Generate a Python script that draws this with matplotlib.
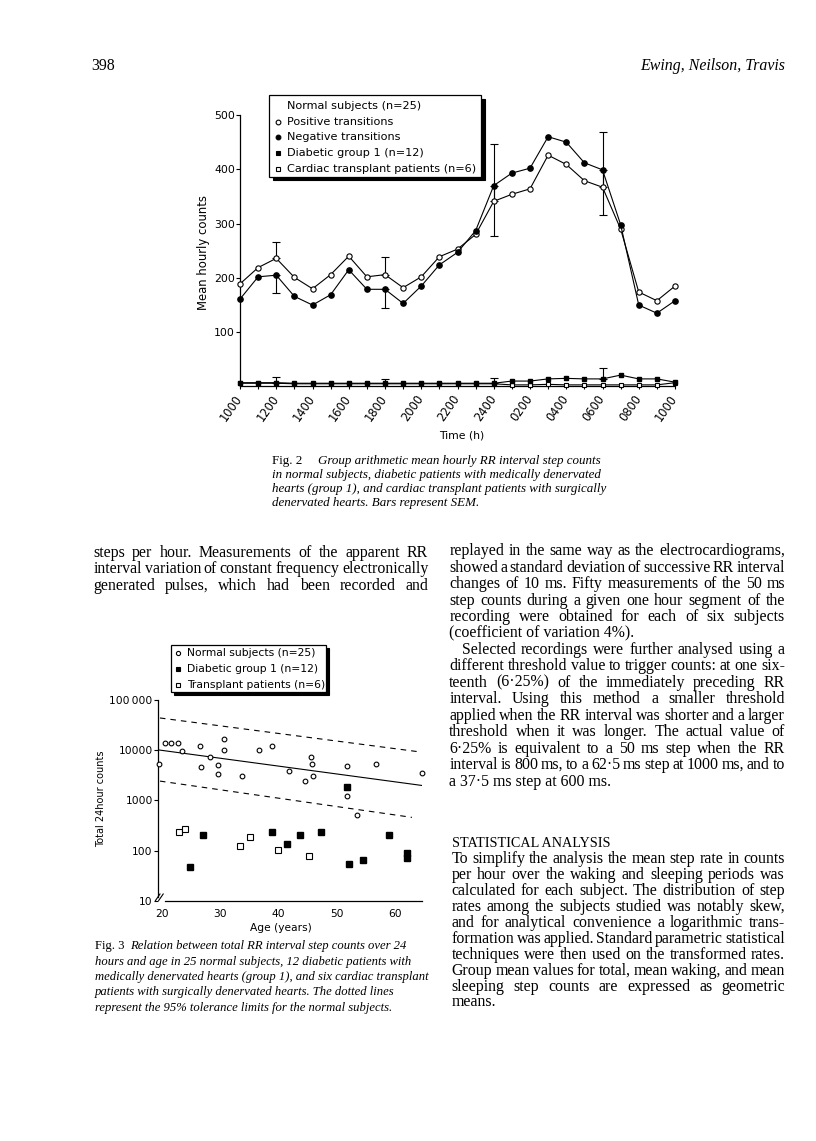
import matplotlib
matplotlib.use("Agg")
import matplotlib.pyplot as plt
from matplotlib.transforms import IdentityTransform
from matplotlib.patches import Rectangle
from matplotlib.lines import Line2D
import numpy as np

# ---------------- data: Fig. 2 ----------------
hours = list(range(25))
time_labels = ['1000', '1200', '1400', '1600', '1800', '2000', '2200', '2400',
               '0200', '0400', '0600', '0800', '1000']
normal_pos = [189, 219, 236, 201, 180, 206, 240, 202, 206, 182, 202, 239, 253,
              280, 341, 354, 364, 426, 409, 379, 367, 290, 174, 158, 185]
normal_neg = [161, 202, 205, 166, 150, 169, 215, 179, 179, 153, 185, 224, 247,
              287, 370, 393, 402, 460, 450, 412, 399, 298, 150, 135, 158]
diabetic = [7, 7, 7, 6, 6, 6, 6, 6, 6, 6, 6, 6, 6, 6, 6,
            10, 10, 14, 15, 14, 14, 21, 14, 14, 8]
transplant = [6, 6, 6, 5, 5, 5, 5, 5, 5, 5, 5, 5, 5, 5, 5,
              3, 3, 4, 3, 3, 3, 3, 3, 3, 7]
sem_hours = [2, 8, 14, 20]
pos_sem = [31, 33, 106, 102]
neg_sem = [32, 35, 93, 83]
diab_sem = [10, 8, 9, 20]

# ---------------- data: Fig. 3 ----------------
normal_age = [19.6, 20.5, 21.6, 22.8, 23.5, 26.6, 26.7, 28.3, 29.7, 29.7, 30.6,
              30.7, 33.8, 36.6, 38.9, 41.8, 44.6, 45.6, 45.8, 45.9, 51.7, 51.7,
              53.5, 56.7, 64.7]
normal_cnt = [5330, 13800, 13800, 13800, 9700, 11800, 4640, 7360, 5090, 3260,
              16300, 9850, 3070, 9850, 11800, 3750, 2440, 7360, 5250, 2970,
              4720, 1200, 509, 5170, 3520]
diab_age = [24.8, 27.0, 38.9, 41.4, 43.7, 47.3, 51.7, 52.1, 54.5, 58.9, 62.0, 62.0]
diab_cnt = [48, 206, 229, 138, 203, 236, 1850, 55, 64, 206, 88, 71]
trans_age = [22.9, 24.0, 33.4, 35.2, 39.9, 45.3]
trans_cnt = [233, 267, 124, 190, 105, 77]
fit_age, fit_cnt = [19.4, 64.7], [10000, 1960]
upper_age, upper_cnt = [19.7, 64.3], [43000, 9100]
lower_age, lower_cnt = [19.7, 62.9], [2400, 457]
log_ticks = [10, 100, 1000, 10000, 100000]
log_labels = ['10', '100', '1000', '10000', '100\u2009000']
age_ticks = [20, 30, 40, 50, 60]

# ---------------- page setup ----------------
W, H = 816, 1141
fig = plt.figure(figsize=(W / 100, H / 100), dpi=100)
fig.patch.set_facecolor('white')
R = fig.canvas.get_renderer()
ID = IdentityTransform()
SERIF = 'Liberation Serif'
SANS = 'DejaVu Sans'
PX = 100 / 72.0


def measure(s, size, **kw):
    t = fig.text(0, 0, s, fontsize=size, **kw)
    w = t.get_window_extent(R).width
    t.remove()
    return w


def fit(s, width, **kw):
    return 10 * width / measure(s, 10, **kw)


def words_fit(s, width, min_gap, **kw):
    ws = s.split()
    total = sum(measure(w, 10, **kw) for w in ws)
    return 10 * (width - min_gap * (len(ws) - 1)) / total


def line_text(x, yc, s, size, family=SERIF, style='normal', ha='left'):
    base = H - (yc + 0.30 * size * PX)
    return fig.text(x, base, s, fontsize=size, family=family, style=style,
                    ha=ha, va='baseline', transform=ID)


def justify(s, x0, x1, yc, size, family=SERIF, style='normal'):
    words = s.split()
    base = H - (yc + 0.30 * size * PX)
    ts = [fig.text(0, base, w, fontsize=size, family=family, style=style,
                   va='baseline', transform=ID) for w in words]
    ws = [t.get_window_extent(R).width for t in ts]
    gap = (x1 - x0 - sum(ws)) / max(len(words) - 1, 1)
    x = x0
    for t, w in zip(ts, ws):
        t.set_position((x, base))
        x += w + gap


def sans_text(x, yc, s, size, ha='left', rot=0):
    return fig.text(x, H - yc, s, fontsize=size, family=SANS, ha=ha,
                    va='center', rotation=rot, transform=ID)


def box_with_shadow(x0, y0, x1, y1, sh=3.5):
    fig.add_artist(Rectangle((x0 + sh, H - y1 - sh), x1 - x0, y1 - y0,
                             transform=ID, facecolor='black', edgecolor='black',
                             lw=0.8, zorder=5))
    fig.add_artist(Rectangle((x0, H - y1), x1 - x0, y1 - y0, transform=ID,
                             facecolor='white', edgecolor='black', lw=0.9,
                             zorder=6))


def legend_marker(x, yc, marker, filled, ms):
    fig.add_artist(Line2D([x], [H - yc], transform=ID, marker=marker,
                          ms=ms, mfc='black' if filled else 'white',
                          mec='black', mew=0.8, ls='none', zorder=7))


# ---------------- text content ----------------
left_lines = ['steps per hour. Measurements of the apparent RR',
              'interval variation of constant frequency electronically',
              'generated pulses, which had been recorded and']
right_lines = [
    ('replayed in the same way as the electrocardiograms,', 'j'),
    ('showed a standard deviation of successive RR interval', 'j'),
    ('changes of 10 ms. Fifty measurements of the 50 ms', 'j'),
    ('step counts during a given one hour segment of the', 'j'),
    ('recording were obtained for each of six subjects', 'j'),
    ('(coefficient of variation 4%).', 'l'),
    ('Selected recordings were further analysed using a', 'i'),
    ('different threshold value to trigger counts: at one six-', 'j'),
    ('teenth (6\u00b725%) of the immediately preceding RR', 'j'),
    ('interval. Using this method a smaller threshold', 'j'),
    ('applied when the RR interval was shorter and a larger', 'j'),
    ('threshold when it was longer. The actual value of', 'j'),
    ('6\u00b725% is equivalent to a 50 ms step when the RR', 'j'),
    ('interval is 800 ms, to a 62\u00b75 ms step at 1000 ms, and to', 'j'),
    ('a 37\u00b75 ms step at 600 ms.', 'l'),
]
stat_lines = [
    'To simplify the analysis the mean step rate in counts',
    'per hour over the waking and sleeping periods was',
    'calculated for each subject. The distribution of step',
    'rates among the subjects studied was notably skew,',
    'and for analytical convenience a logarithmic trans-',
    'formation was applied. Standard parametric statistical',
    'techniques were then used on the transformed rates.',
    'Group mean values for total, mean waking, and mean',
    'sleeping step counts are expressed as geometric',
]

# ---------------- font sizes ----------------
jl = [s for s, m in right_lines if m == 'j'] + stat_lines + left_lines
body_size = float(min(words_fit(s, 335.5, 2.2, family=SERIF) for s in jl))
cap2_size = fit('denervated hearts. Bars represent SEM.', 208.3, family=SERIF,
                style='italic')
cap3_size = fit('represent the 95% tolerance limits for the normal subjects.',
                297.7, family=SERIF, style='italic')
leg2_size = fit('Cardiac transplant patients (n=6)', 190.7, family=SANS)
leg3_size = fit('Transplant patients (n=6)', 138.3, family=SANS)
tick_size = fit('100\u2009000', 42.6, family=SANS)
tick2_size = fit('500', 20.5, family=SANS)
xt2_size = 8.3
head_size = fit('Ewing, Neilson, Travis', 145, family=SERIF, style='italic')

# ---------------- header ----------------
line_text(91, 65, '398', head_size)
line_text(785, 65, 'Ewing, Neilson, Travis', head_size, style='italic', ha='right')

# ---------------- Fig. 2 axes ----------------
ax1 = fig.add_axes([240 / W, 1 - 386.5 / H, 435 / W, 271.5 / H])
ax1.set_xlim(0, 24)
ax1.set_ylim(0, 500)
kw = dict(color='black', lw=0.8, clip_on=False, zorder=3)
ax1.errorbar([hours[i] for i in sem_hours], [normal_pos[i] for i in sem_hours],
             yerr=[[0] * 4, pos_sem], fmt='none', ecolor='black', elinewidth=0.8,
             capsize=2.8, capthick=0.8, zorder=2)
ax1.errorbar([hours[i] for i in sem_hours], [normal_neg[i] for i in sem_hours],
             yerr=[neg_sem, [0] * 4], fmt='none', ecolor='black', elinewidth=0.8,
             capsize=2.8, capthick=0.8, zorder=2)
ax1.errorbar([hours[i] for i in sem_hours], [diabetic[i] for i in sem_hours],
             yerr=[[0] * 4, diab_sem], fmt='none', ecolor='black', elinewidth=0.8,
             capsize=2.8, capthick=0.8, zorder=2)
ax1.plot(hours, normal_pos, marker='o', ms=3.8, mfc='white', mec='black',
         mew=0.8, **kw)
ax1.plot(hours, normal_neg, marker='o', ms=3.8, mfc='black', mec='black', **kw)
ax1.plot(hours, transplant, marker='s', ms=3.2, mfc='white', mec='black',
         mew=0.8, **kw)
ax1.plot(hours, diabetic, marker='s', ms=3.5, mfc='black', mec='black', **kw)
for s in ['top', 'right']:
    ax1.spines[s].set_visible(False)
for s in ['left', 'bottom']:
    ax1.spines[s].set_linewidth(0.9)
ax1.set_yticks([100, 200, 300, 400, 500])
ax1.tick_params(axis='y', length=3, width=0.8, pad=0.5, labelsize=tick2_size)
for t in ax1.get_yticklabels():
    t.set_family(SANS)
ax1.set_xticks(hours[::2])
ax1.set_xticklabels(time_labels, rotation=55, ha='right', va='center',
                    rotation_mode='anchor', family=SANS, fontsize=xt2_size)
ax1.set_xticks(hours[1::2], minor=True)
ax1.tick_params(axis='x', which='both', length=2.5, width=0.8, pad=4.5)
ax1.set_facecolor('none')

sans_text(204, 252.5, 'Mean hourly counts', fit('Mean hourly counts', 115, family=SANS),
          ha='center', rot=90)
sans_text(462, 435, 'Time (h)', 7.8, ha='center')

# legend Fig. 2
box_with_shadow(269.3, 95, 481, 176.5, sh=3.8)
leg2_rows = [106, 121.7, 137.2, 152.8, 168.5]
leg2_text = ['Normal subjects (n=25)', 'Positive transitions', 'Negative transitions',
             'Diabetic group 1 (n=12)', 'Cardiac transplant patients (n=6)']
leg2_mark = [None, ('o', False, 3.4), ('o', True, 3.4), ('s', True, 3.2),
             ('s', False, 3.0)]
for yc, txt, mk in zip(leg2_rows, leg2_text, leg2_mark):
    t = sans_text(286.7, yc, txt, leg2_size)
    t.set_zorder(8)
    if mk:
        legend_marker(278.3, yc, mk[0], mk[1], mk[2])

# caption Fig. 2
line_text(271.7, 460, 'Fig. 2', cap2_size)
line_text(318.3, 460, 'Group arithmetic mean hourly RR interval step counts',
          cap2_size, style='italic')
line_text(271.7, 474.3, 'in normal subjects, diabetic patients with medically denervated',
          cap2_size, style='italic')
line_text(271.7, 488.3, 'hearts (group 1), and cardiac transplant patients with surgically',
          cap2_size, style='italic')
line_text(271.7, 502.3, 'denervated hearts. Bars represent SEM.', cap2_size,
          style='italic')

# ---------------- body text ----------------
for k, s in enumerate(left_lines):
    justify(s, 93.3, 428.3, 552 + 16.5 * k, body_size)

for k, (s, mode) in enumerate(right_lines):
    yc = 550.5 + 16.45 * k
    if mode == 'j':
        justify(s, 449.3, 785, yc, body_size)
    elif mode == 'i':
        justify(s, 461.7, 785, yc, body_size)
    else:
        line_text(449.3, yc, s, body_size)

head_sz = fit('STATISTICAL ANALYSIS', 157, family=SERIF)
line_text(451.7, 843, 'STATISTICAL ANALYSIS', head_sz)
for k, s in enumerate(stat_lines):
    justify(s, 451.7, 785, 858.3 + 15.93 * k, body_size)
line_text(451.7, 858.3 + 15.93 * 9, 'means.', body_size)

# ---------------- Fig. 3 axes ----------------
ax2 = fig.add_axes([158.3 / W, 1 - 901 / H, 263.4 / W, 201.5 / H])
ax2.set_yscale('log')
ax2.set_xlim(19.42, 64.57)
ax2.set_ylim(10, 100000)
ax2.plot(fit_age, fit_cnt, color='black', lw=0.8)
ax2.plot(upper_age, upper_cnt, color='black', lw=0.8, dashes=(5, 4.5))
ax2.plot(lower_age, lower_cnt, color='black', lw=0.8, dashes=(5, 4.5))
ax2.plot(normal_age, normal_cnt, ls='none', marker='o', ms=3.4, mfc='white',
         mec='black', mew=0.8, clip_on=False, zorder=3)
ax2.plot(diab_age, diab_cnt, ls='none', marker='s', ms=4.2, mfc='black',
         mec='black', clip_on=False, zorder=3)
ax2.plot(trans_age, trans_cnt, ls='none', marker='s', ms=3.9, mfc='white',
         mec='black', mew=0.8, clip_on=False, zorder=3)
for s in ['top', 'right']:
    ax2.spines[s].set_visible(False)
ax2.spines['left'].set_bounds(12, 100000)
ax2.spines['bottom'].set_bounds(20.5, 64.57)
for s in ['left', 'bottom']:
    ax2.spines[s].set_linewidth(0.9)
ax2.set_yticks(log_ticks)
ax2.set_yticklabels(log_labels, family=SANS, fontsize=tick_size)
ax2.yaxis.set_minor_locator(matplotlib.ticker.NullLocator())
ax2.set_xticks(age_ticks)
ax2.set_xticklabels([str(a) for a in age_ticks], family=SANS, fontsize=tick_size)
ax2.tick_params(axis='y', length=3.2, width=0.8, pad=0.8)
ax2.tick_params(axis='x', length=0, width=0.8, pad=6)
ax2.set_facecolor('none')
# axis break mark
for dx in (0, 3.2):
    fig.add_artist(Line2D([155.5 + dx, 160 + dx], [H - 900.5, H - 894],
                          transform=ID, color='black', lw=0.8))

sans_text(101, 799, 'Total 24hour counts', fit('Total 24hour counts', 96, family=SANS),
          ha='center', rot=90)
sans_text(281, 928, 'Age (years)', fit('Age (years)', 61.7, family=SANS), ha='center')

# legend Fig. 3
box_with_shadow(171, 645, 326, 692, sh=3.2)
leg3_rows = [653.3, 669.3, 685]
leg3_text = ['Normal subjects (n=25)', 'Diabetic group 1 (n=12)',
             'Transplant patients (n=6)']
leg3_mark = [('o', False, 3.0), ('s', True, 3.2), ('s', False, 3.0)]
for yc, txt, mk in zip(leg3_rows, leg3_text, leg3_mark):
    t = sans_text(186.7, yc, txt, leg3_size)
    t.set_zorder(8)
    legend_marker(178.3, yc, mk[0], mk[1], mk[2])

# caption Fig. 3
line_text(95, 945.7, 'Fig. 3', cap3_size)
line_text(130, 945.7, 'Relation between total RR interval step counts over 24',
          cap3_size, style='italic')
cap3 = ['hours and age in 25 normal subjects, 12 diabetic patients with',
        'medically denervated hearts (group 1), and six cardiac transplant',
        'patients with surgically denervated hearts. The dotted lines',
        'represent the 95% tolerance limits for the normal subjects.']
for k, s in enumerate(cap3):
    line_text(95, 961.2 + 15.2 * k, s, cap3_size, style='italic')

fig.savefig('out.png', dpi=100, facecolor='white')
